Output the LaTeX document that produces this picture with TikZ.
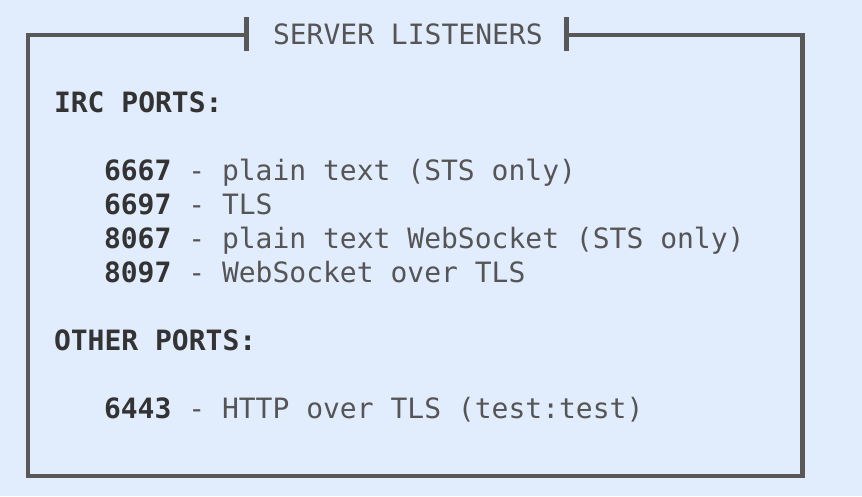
\documentclass[tikz,border=0pt]{standalone}
\usepackage{fontspec}
\setmonofont{DejaVu Sans Mono}
\definecolor{bgc}{HTML}{E1ECFD}
\definecolor{framec}{HTML}{585858}
\definecolor{txtc}{HTML}{555555}
\definecolor{boldc}{HTML}{333333}
\tikzset{
  line/.style={anchor=base west, inner sep=0pt, outer sep=0pt, text=txtc,
    font=\ttfamily\fontsize{28}{34}\selectfont},
  frameline/.style={draw=framec, line width=4.5pt, line cap=butt, line join=miter},
}
\newcommand{\pnum}[1]{\textcolor{boldc}{\bfseries #1}}
\begin{document}
\begin{tikzpicture}[x=1pt,y=-1pt]
\fill[bgc] (0,0) rectangle (862,496);
\useasboundingbox (0,0) rectangle (862,496);
\coordinate (tl) at (28,35);
\coordinate (tr) at (802.5,35);
\coordinate (bl) at (28,476);
\coordinate (br) at (802.5,476);
\coordinate (lt) at (246.5,35);
\coordinate (rt) at (566.7,35);
\coordinate (lt1) at (246.5,17);
\coordinate (lt2) at (246.5,51);
\coordinate (rt1) at (566.7,17);
\coordinate (rt2) at (566.7,51);
\draw[frameline] (lt) -- (tl) -- (bl) -- (br) -- (tr) -- (rt);
\draw[frameline] (lt1) -- (lt2);
\draw[frameline] (rt1) -- (rt2);
\node[line] (title) at (273,44) {SERVER LISTENERS};
\node[line, text=boldc, font=\ttfamily\bfseries\fontsize{28}{34}\selectfont] (irc) at (54,112) {IRC PORTS:};
\node[line] (p1) at (104,180) {\pnum{6667} - plain text (STS only)};
\node[line] (p2) at (104,214) {\pnum{6697} - TLS};
\node[line] (p3) at (104,248) {\pnum{8067} - plain text WebSocket (STS only)};
\node[line] (p4) at (104,282) {\pnum{8097} - WebSocket over TLS};
\node[line, text=boldc, font=\ttfamily\bfseries\fontsize{28}{34}\selectfont] (other) at (54,350) {OTHER PORTS:};
\node[line] (p5) at (104,418) {\pnum{6443} - HTTP over TLS (test:test)};
\end{tikzpicture}
\end{document}
